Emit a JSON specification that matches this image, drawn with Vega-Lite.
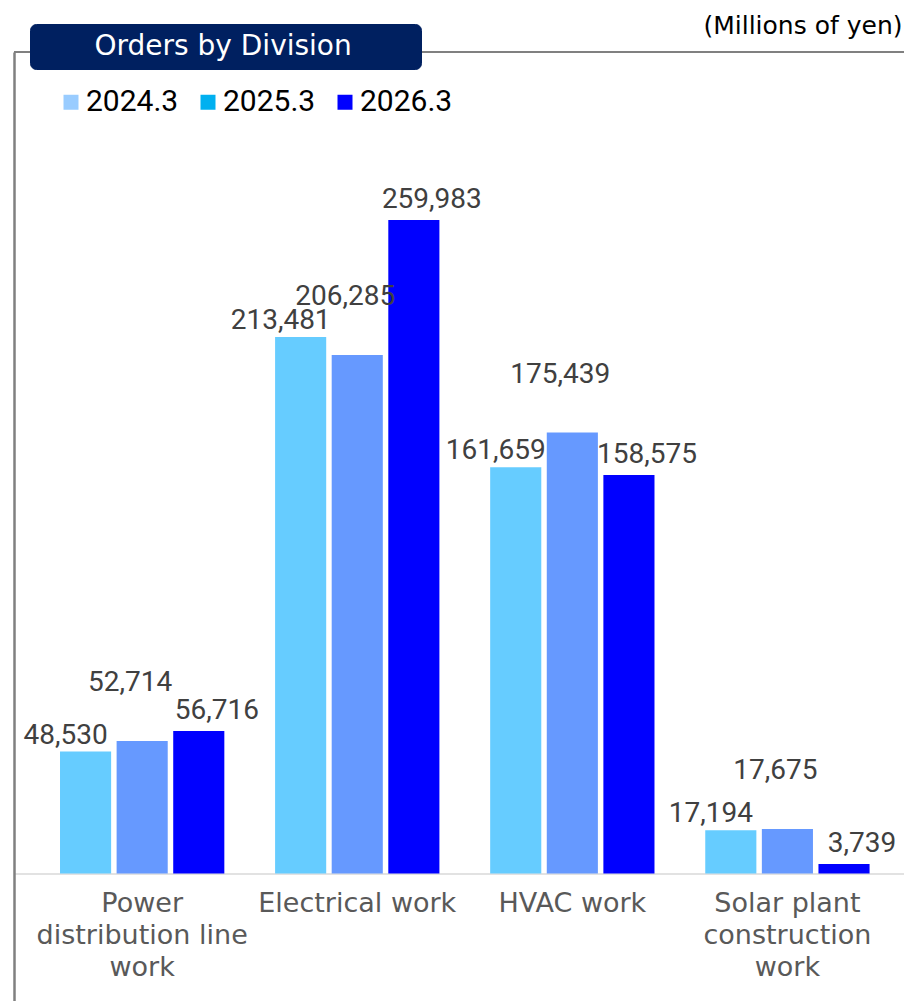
{
  "$schema": "https://vega.github.io/schema/vega-lite/v6.json",
  "width": 890,
  "height": 949,
  "autosize": {"type": "none"},
  "padding": {"left": 14, "top": 52, "right": 0, "bottom": 0},
  "background": "white",
  "config": {"view": {"stroke": null}, "font": "DejaVu Sans"},
  "datasets": {
    "orders": [
      {"division": "Power distribution line work", "year": "2024.3", "orders": 48530},
      {"division": "Power distribution line work", "year": "2025.3", "orders": 52714},
      {"division": "Power distribution line work", "year": "2026.3", "orders": 56716},
      {"division": "Electrical work", "year": "2024.3", "orders": 213481},
      {"division": "Electrical work", "year": "2025.3", "orders": 206285},
      {"division": "Electrical work", "year": "2026.3", "orders": 259983},
      {"division": "HVAC work", "year": "2024.3", "orders": 161659},
      {"division": "HVAC work", "year": "2025.3", "orders": 175439},
      {"division": "HVAC work", "year": "2026.3", "orders": 158575},
      {"division": "Solar plant construction work", "year": "2024.3", "orders": 17194},
      {"division": "Solar plant construction work", "year": "2025.3", "orders": 17675},
      {"division": "Solar plant construction work", "year": "2026.3", "orders": 3739}
    ]
  },
  "layer": [
    {
      "data": {"name": "orders"},
      "mark": {"type": "bar"},
      "encoding": {
        "x": {
          "field": "division", "type": "nominal",
          "sort": ["Power distribution line work", "Electrical work", "HVAC work", "Solar plant construction work"],
          "scale": {"paddingInner": 0.236, "paddingOuter": 0.187, "align": 0.572},
          "axis": {
            "title": null, "orient": "bottom", "offset": -127.5,
            "domainColor": "#d9d9d9", "domainWidth": 1.5, "ticks": false,
            "labelFont": "DejaVu Sans", "labelFontSize": 27, "labelColor": "#595959",
            "labelPadding": 38, "labelBaseline": "alphabetic", "labelLineHeight": 32,
            "labelAngle": 0, "labelLimit": 400, "labelOverlap": false,
            "labelExpr": "datum.label == 'Power distribution line work' ? ['Power', 'distribution line', 'work'] : datum.label == 'Solar plant construction work' ? ['Solar plant', 'construction', 'work'] : datum.label"
          }
        },
        "xOffset": {"field": "year", "type": "nominal", "scale": {"domain": ["2024.3", "2025.3", "2026.3"], "paddingInner": 0.097, "paddingOuter": 0}},
        "y": {
          "field": "orders", "type": "quantitative",
          "scale": {"domain": [-50724, 326822], "nice": false, "zero": false},
          "axis": {
            "title": "(Millions of yen)", "titleAngle": 0, "titleX": 888, "titleY": -19,
            "titleAlign": "right", "titleBaseline": "alphabetic", "titleFont": "DejaVu Sans",
            "titleFontSize": 25, "titleFontWeight": "normal", "titleColor": "#000000",
            "labels": false, "ticks": false, "grid": false, "domainColor": "#808080", "domainWidth": 2.5
          }
        },
        "color": {
          "field": "year", "type": "nominal",
          "scale": {"domain": ["2024.3", "2025.3", "2026.3"], "range": ["#66ccff", "#6699ff", "#0000ff"]},
          "legend": {
            "orient": "none", "legendX": 42, "legendY": 35, "direction": "horizontal",
            "title": null, "symbolType": "square", "symbolSize": 49, "symbolStrokeWidth": 8,
            "labelFont": "Roboto", "labelFontSize": 30, "labelColor": "#000000",
            "labelOffset": 0, "columnPadding": 9, "padding": 0,
            "encode": {"symbols": {"update": {"stroke": {"signal": "datum.value == '2024.3' ? '#99ccff' : datum.value == '2025.3' ? '#00b0f0' : '#0000ff'"}, "strokeWidth": {"value": 8}, "strokeJoin": {"value": "miter"}}}}
          }
        }
      }
    },
    {
      "data": {"name": "orders"},
      "transform": [{"filter": "datum.year == '2024.3'"}],
      "mark": {"type": "text", "font": "Roboto", "fontSize": 28, "color": "#404040", "baseline": "alphabetic", "dx": -20, "dy": -8},
      "encoding": {
        "x": {"field": "division", "type": "nominal", "sort": ["Power distribution line work", "Electrical work", "HVAC work", "Solar plant construction work"]},
        "xOffset": {"field": "year", "type": "nominal", "scale": {"domain": ["2024.3", "2025.3", "2026.3"]}},
        "y": {"field": "orders", "type": "quantitative"},
        "text": {"field": "orders", "type": "quantitative", "format": ","}
      }
    },
    {
      "data": {"name": "orders"},
      "transform": [{"filter": "datum.year == '2025.3'"}],
      "mark": {"type": "text", "font": "Roboto", "fontSize": 28, "color": "#404040", "baseline": "alphabetic", "dx": -12, "dy": -50},
      "encoding": {
        "x": {"field": "division", "type": "nominal", "sort": ["Power distribution line work", "Electrical work", "HVAC work", "Solar plant construction work"]},
        "xOffset": {"field": "year", "type": "nominal", "scale": {"domain": ["2024.3", "2025.3", "2026.3"]}},
        "y": {"field": "orders", "type": "quantitative"},
        "text": {"field": "orders", "type": "quantitative", "format": ","}
      }
    },
    {
      "data": {"name": "orders"},
      "transform": [{"filter": "datum.year == '2026.3'"}],
      "mark": {"type": "text", "font": "Roboto", "fontSize": 28, "color": "#404040", "baseline": "alphabetic", "dx": 18, "dy": -12},
      "encoding": {
        "x": {"field": "division", "type": "nominal", "sort": ["Power distribution line work", "Electrical work", "HVAC work", "Solar plant construction work"]},
        "xOffset": {"field": "year", "type": "nominal", "scale": {"domain": ["2024.3", "2025.3", "2026.3"]}},
        "y": {"field": "orders", "type": "quantitative"},
        "text": {"field": "orders", "type": "quantitative", "format": ","}
      }
    },
    {
      "data": {"values": [{}]},
      "mark": {"type": "rule", "color": "#808080", "strokeWidth": 2},
      "encoding": {"y": {"datum": 326822}}
    },
    {
      "data": {"values": [{"heading": "Orders by Division"}]},
      "mark": {"type": "point", "opacity": 0},
      "encoding": {
        "shape": {
          "field": "heading", "type": "nominal",
          "legend": {
            "orient": "none", "legendX": 16, "legendY": -28,
            "title": ".", "titleOrient": "right", "titleColor": "#002060", "titleFontSize": 2, "titlePadding": 60,
            "fillColor": "#002060", "strokeColor": "#002060", "cornerRadius": 6, "padding": 8.5,
            "symbolOpacity": 0, "symbolSize": 100, "labelOffset": 28,
            "labelFont": "DejaVu Sans", "labelFontSize": 28, "labelColor": "#ffffff", "labelLimit": 500
          }
        }
      }
    }
  ]
}
